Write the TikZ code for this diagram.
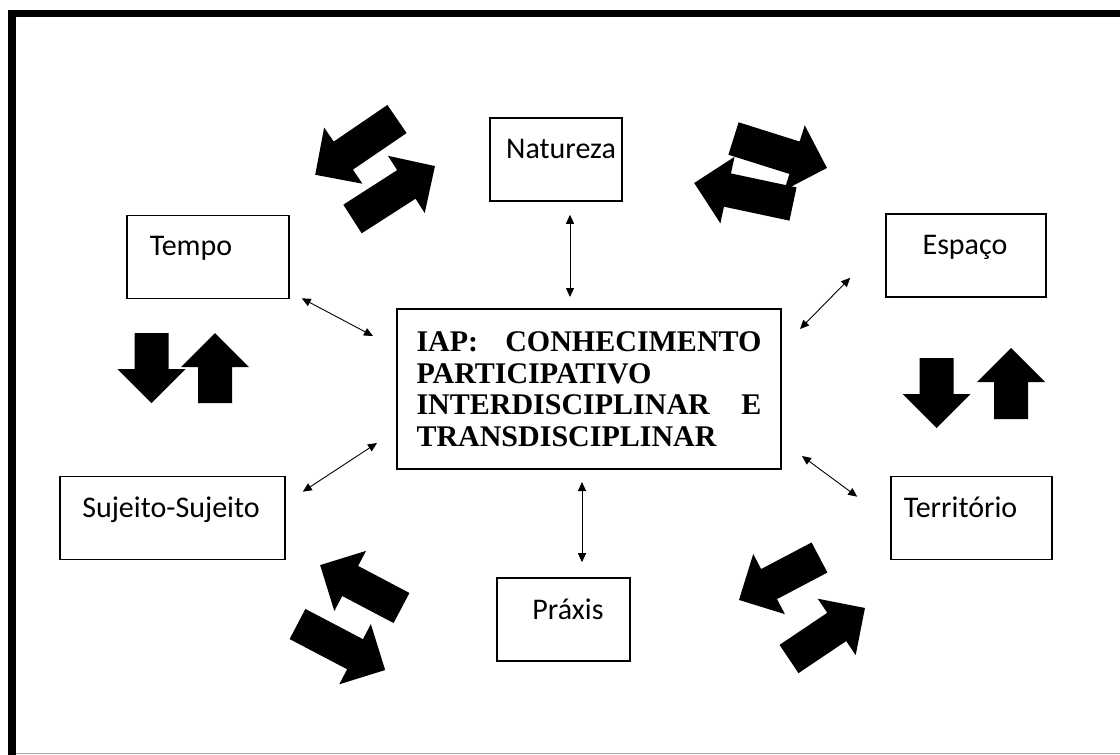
\documentclass[tikz,border=0pt]{standalone}
\usepackage{fontspec}
\setmainfont{Liberation Serif}
\newfontfamily\calib{Carlito}
\usetikzlibrary{arrows.meta,calc}
\newcommand{\blockarr}[4]{\fill[shift={(#1,#2)},rotate=#3] (0,-17) -- ({#4-34},-17) -- ({#4-34},-34) -- (#4,0) -- ({#4-34},34) -- ({#4-34},17) -- (0,17) -- cycle;}
\tikzset{
  sbox/.style={draw, line width=1.6pt, minimum width=#1, minimum height=83pt, inner sep=0pt},
  lbl/.style={font=\calib\fontsize{30}{33}\selectfont, inner sep=0pt, anchor=base},
  dbl/.style={line width=0.9pt, {Triangle[length=9pt,width=8pt]}-{Triangle[length=9pt,width=8pt]}},
}
\begin{document}
\begin{tikzpicture}[x=1pt,y=-1pt]
\useasboundingbox (0,0) rectangle (1120,755);
% frame
\fill (8,10) rectangle (1120,17);
\fill (8,10) rectangle (16,755);
\draw[black!35, line width=1pt] (16,753.5) -- (1120,753.5);
% boxes
\node[sbox=132pt] (nat) at (556,159.5) {};
\node[sbox=162pt] (tem) at (208,257) {};
\node[sbox=160pt] (esp) at (966,255.5) {};
\node[sbox=225pt] (suj) at (172.5,518) {};
\node[sbox=161pt] (ter) at (971.5,518) {};
\node[sbox=133pt] (pra) at (563.5,619.5) {};
\node[draw, line width=2pt, minimum width=384pt, minimum height=160pt, inner sep=0pt,
      font=\bfseries\fontsize{30}{31.5}\selectfont, align=left] (c) at (589,389)
  {\hbox to 345pt{IAP:\hfill CONHECIMENTO}\\
   \hbox to 345pt{PARTICIPATIVO\hfill}\\
   \hbox to 345pt{INTERDISCIPLINAR\hfill E}\\
   \hbox to 345pt{TRANSDISCIPLINAR\hfill}};
% labels
\node[lbl] (natT) at ($(nat.north)+(5,41)$) {Natureza};
\node[lbl] (temT) at ($(tem.north)+(-17,41)$) {Tempo};
\node[lbl] (espT) at ($(esp.north)+(-1,41)$) {Espaço};
\node[lbl] (sujT) at ($(suj.north)+(-1.5,42)$) {Sujeito-Sujeito};
\node[lbl] (terT) at ($(ter.north)+(-11,42)$) {Território};
\node[lbl] (praT) at ($(pra.north)+(4.5,42)$) {Práxis};
% thin double arrows
\draw[dbl] ($(nat.south)+(14,13)$) -- ($(c.north)+(-19,-11)$);
\draw[dbl] ($(tem.south east)+(12,-1)$) -- ($(c.north west)+(-23,28)$);
\draw[dbl] ($(esp.south west)+(-35,-20)$) -- ($(c.north east)+(18,21)$);
\draw[dbl] ($(suj.north east)+(17,16)$) -- ($(c.south west)+(-19,-27)$);
\draw[dbl] ($(ter.north west)+(-33,21)$) -- ($(c.south east)+(20,-14)$);
\draw[dbl] ($(pra.north)+(18.5,-15)$) -- ($(c.south)+(-7,12)$);
% block arrows
\blockarr{397}{119}{214.3}{99}
\blockarr{352.5}{219}{32.7}{98}
\blockarr{733.5}{138.5}{-17.5}{98}
\blockarr{793}{204}{168}{101}
\blockarr{151.5}{333}{-90}{70}
\blockarr{215}{403}{90}{70}
\blockarr{936.5}{358}{-90}{70}
\blockarr{1011}{419}{90}{71}
\blockarr{401.5}{608}{152.2}{92}
\blockarr{297.5}{624}{-27.7}{99}
\blockarr{819.5}{557.5}{207.8}{91}
\blockarr{789}{659}{33.9}{91.5}
\end{tikzpicture}
\end{document}
